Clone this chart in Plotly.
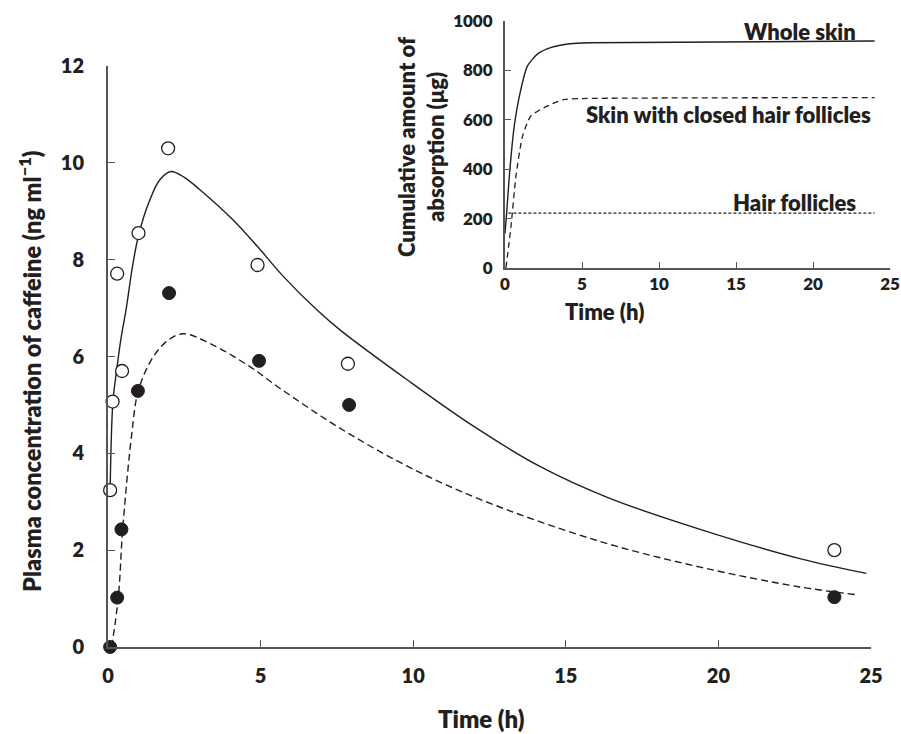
import plotly.graph_objects as go

# ---- Main panel data (plasma concentration, ng/ml) ----
whole_obs_t = [0.07, 0.15, 0.30, 0.46, 1.0, 1.97, 4.9, 7.86, 23.8]
whole_obs_c = [3.24, 5.07, 7.71, 5.70, 8.55, 10.3, 7.89, 5.85, 2.0]

closed_obs_t = [0.07, 0.30, 0.44, 0.98, 2.0, 4.95, 7.9, 23.8]
closed_obs_c = [0.0, 1.02, 2.43, 5.29, 7.31, 5.91, 5.0, 1.03]

whole_fit_t = [0.07, 0.16, 0.28, 0.42, 0.6, 0.8, 1.0, 1.35, 1.7, 2.06, 2.5, 3.0,
               4.1, 4.9, 5.75, 6.85, 7.6, 9.8, 12.0, 14.15, 16.4, 19.4, 22.7, 24.85]
whole_fit_c = [3.24, 5.05, 5.7, 6.35, 7.0, 7.85, 8.5, 9.2, 9.65, 9.82, 9.7, 9.45,
               8.82, 8.27, 7.65, 6.96, 6.55, 5.52, 4.55, 3.73, 3.08, 2.43, 1.82, 1.52]

closed_fit_t = [0.12, 0.34, 0.48, 0.78, 1.0, 1.49, 2.0, 2.47, 3.34, 4.65, 5.64,
                7.6, 9.79, 12.19, 16.12, 19.4, 22.67, 24.53]
closed_fit_c = [0.0, 1.04, 2.42, 4.41, 5.31, 6.0, 6.35, 6.47, 6.27, 5.79, 5.34,
                4.52, 3.74, 3.05, 2.18, 1.65, 1.24, 1.08]

main_xticks = [0, 5, 10, 15, 20, 25]
main_yticks = [0, 2, 4, 6, 8, 10, 12]

# ---- Inset data (cumulative absorption, µg) ----
ins_whole_t = [0.0, 0.08, 0.28, 0.6, 1.03, 1.46, 2.1, 2.96, 4.24, 5.5, 24]
ins_whole_v = [140, 200, 371, 574, 723, 818, 866, 892, 908, 912, 919]

ins_closed_t = [0.06, 0.39, 0.71, 1.14, 1.67, 2.53, 3.81, 5.0, 24]
ins_closed_v = [0, 169, 371, 534, 615, 649, 682, 686, 690]

ins_hair_t = [0.22, 24]
ins_hair_v = [222, 222]

ins_xticks = [0, 5, 10, 15, 20, 25]
ins_yticks = [0, 200, 400, 600, 800, 1000]

labels = ["Whole skin", "Skin with closed hair follicles", "Hair follicles"]
label_t = [22.9, 23.9, 22.9]
label_v = [957, 622, 266]

INK = "#231f20"
AX = "#555555"
FONT = "Lato"
W = 800

fig = go.Figure()

fig.add_trace(go.Scatter(x=whole_fit_t, y=whole_fit_c, mode="lines",
                         line=dict(color=INK, width=1.4, shape="spline", smoothing=1.0),
                         cliponaxis=False, showlegend=False))
fig.add_trace(go.Scatter(x=closed_fit_t, y=closed_fit_c, mode="lines",
                         line=dict(color=INK, width=1.4, dash="7px,4px", shape="spline", smoothing=1.0),
                         cliponaxis=False, showlegend=False))
fig.add_trace(go.Scatter(x=whole_obs_t, y=whole_obs_c, mode="markers",
                         marker=dict(symbol="circle", size=13, color="white",
                                     line=dict(color=INK, width=1.3)),
                         cliponaxis=False, showlegend=False))
fig.add_trace(go.Scatter(x=closed_obs_t, y=closed_obs_c, mode="markers",
                         marker=dict(symbol="circle", size=13, color=INK,
                                     line=dict(color=INK, width=1)),
                         cliponaxis=False, showlegend=False))

# inset
fig.add_trace(go.Scatter(x=ins_whole_t, y=ins_whole_v, mode="lines", xaxis="x2", yaxis="y2",
                         line=dict(color=INK, width=1.4, shape="spline", smoothing=0.6),
                         cliponaxis=False, showlegend=False))
fig.add_trace(go.Scatter(x=ins_closed_t, y=ins_closed_v, mode="lines", xaxis="x2", yaxis="y2",
                         line=dict(color=INK, width=1.3, dash="6px,4px", shape="spline", smoothing=0.6),
                         cliponaxis=False, showlegend=False))
fig.add_trace(go.Scatter(x=ins_hair_t, y=ins_hair_v, mode="lines", xaxis="x2", yaxis="y2",
                         line=dict(color=INK, width=1.2, dash="3px,2px"),
                         cliponaxis=False, showlegend=False))

L, R, T, B = 108, 9, 21, 87
PW, PH = 901 - L - R, 734 - T - B

def px_x(p):
    return (p - L) / PW

def px_y(p):
    return (734 - B - p) / PH

axis_common = dict(showline=True, linecolor=AX, linewidth=2, ticks="inside",
                   tickcolor=AX, tickwidth=1, showgrid=False, zeroline=False,
                   mirror=False, automargin=False, ticklabeloverflow="allow")

fig.update_layout(
    width=901, height=734,
    margin=dict(l=L, r=R, t=T, b=B, autoexpand=False),
    plot_bgcolor="white", paper_bgcolor="white",
    xaxis=dict(domain=[0, px_x(871)], range=[0, 25], tickvals=main_xticks,
               ticklen=7, ticklabelstandoff=10,
               tickfont=dict(family=FONT, size=20, weight=W, color=INK),
               **axis_common),
    yaxis=dict(domain=[0, px_y(66)], range=[0, 12], tickvals=main_yticks,
               ticklen=7, ticklabelstandoff=18,
               tickfont=dict(family=FONT, size=20, weight=W, color=INK),
               **axis_common),
    xaxis2=dict(domain=[px_x(505), px_x(890)], range=[0, 25], tickvals=ins_xticks,
                anchor="y2", ticklen=6, ticklabelstandoff=0,
                tickfont=dict(family=FONT, size=17, weight=W, color=INK),
                **axis_common),
    yaxis2=dict(domain=[px_y(268), 1], range=[0, 1000], tickvals=ins_yticks,
                anchor="x2", ticklen=6, ticklabelstandoff=7,
                tickfont=dict(family=FONT, size=17, weight=W, color=INK),
                **axis_common),
)

# axis titles
fig.add_annotation(text="Time (h)", xref="paper", yref="paper",
                   x=px_x(481), y=px_y(718), showarrow=False,
                   font=dict(family=FONT, size=24, weight=W, color=INK),
                   xanchor="center", yanchor="middle")
fig.add_annotation(text="Plasma concentration of caffeine (ng ml<sup>\u22121</sup>)",
                   xref="paper", yref="paper", x=px_x(30), y=px_y(372),
                   textangle=-90, showarrow=False,
                   font=dict(family=FONT, size=23.5, weight=W, color=INK),
                   xanchor="center", yanchor="middle")
fig.add_annotation(text="Time (h)", xref="paper", yref="paper",
                   x=px_x(604), y=px_y(311), showarrow=False,
                   font=dict(family=FONT, size=22, weight=W, color=INK),
                   xanchor="center", yanchor="middle")
fig.add_annotation(text="Cumulative amount of<br>absorption (\u03bcg)",
                   xref="paper", yref="paper", x=px_x(421), y=px_y(147),
                   textangle=-90, showarrow=False,
                   font=dict(family=FONT, size=22, weight=W, color=INK),
                   xanchor="center", yanchor="middle")

for txt, t, v in zip(labels, label_t, label_v):
    fig.add_annotation(text=txt, xref="x2", yref="y2", x=t, y=v, showarrow=False,
                       font=dict(family=FONT, size=22, weight=W, color=INK),
                       xanchor="right", yanchor="middle")

fig.write_html("out.html", config={"displayModeBar": False},
               post_script="document.body.style.margin='0';document.body.style.padding='0';")
